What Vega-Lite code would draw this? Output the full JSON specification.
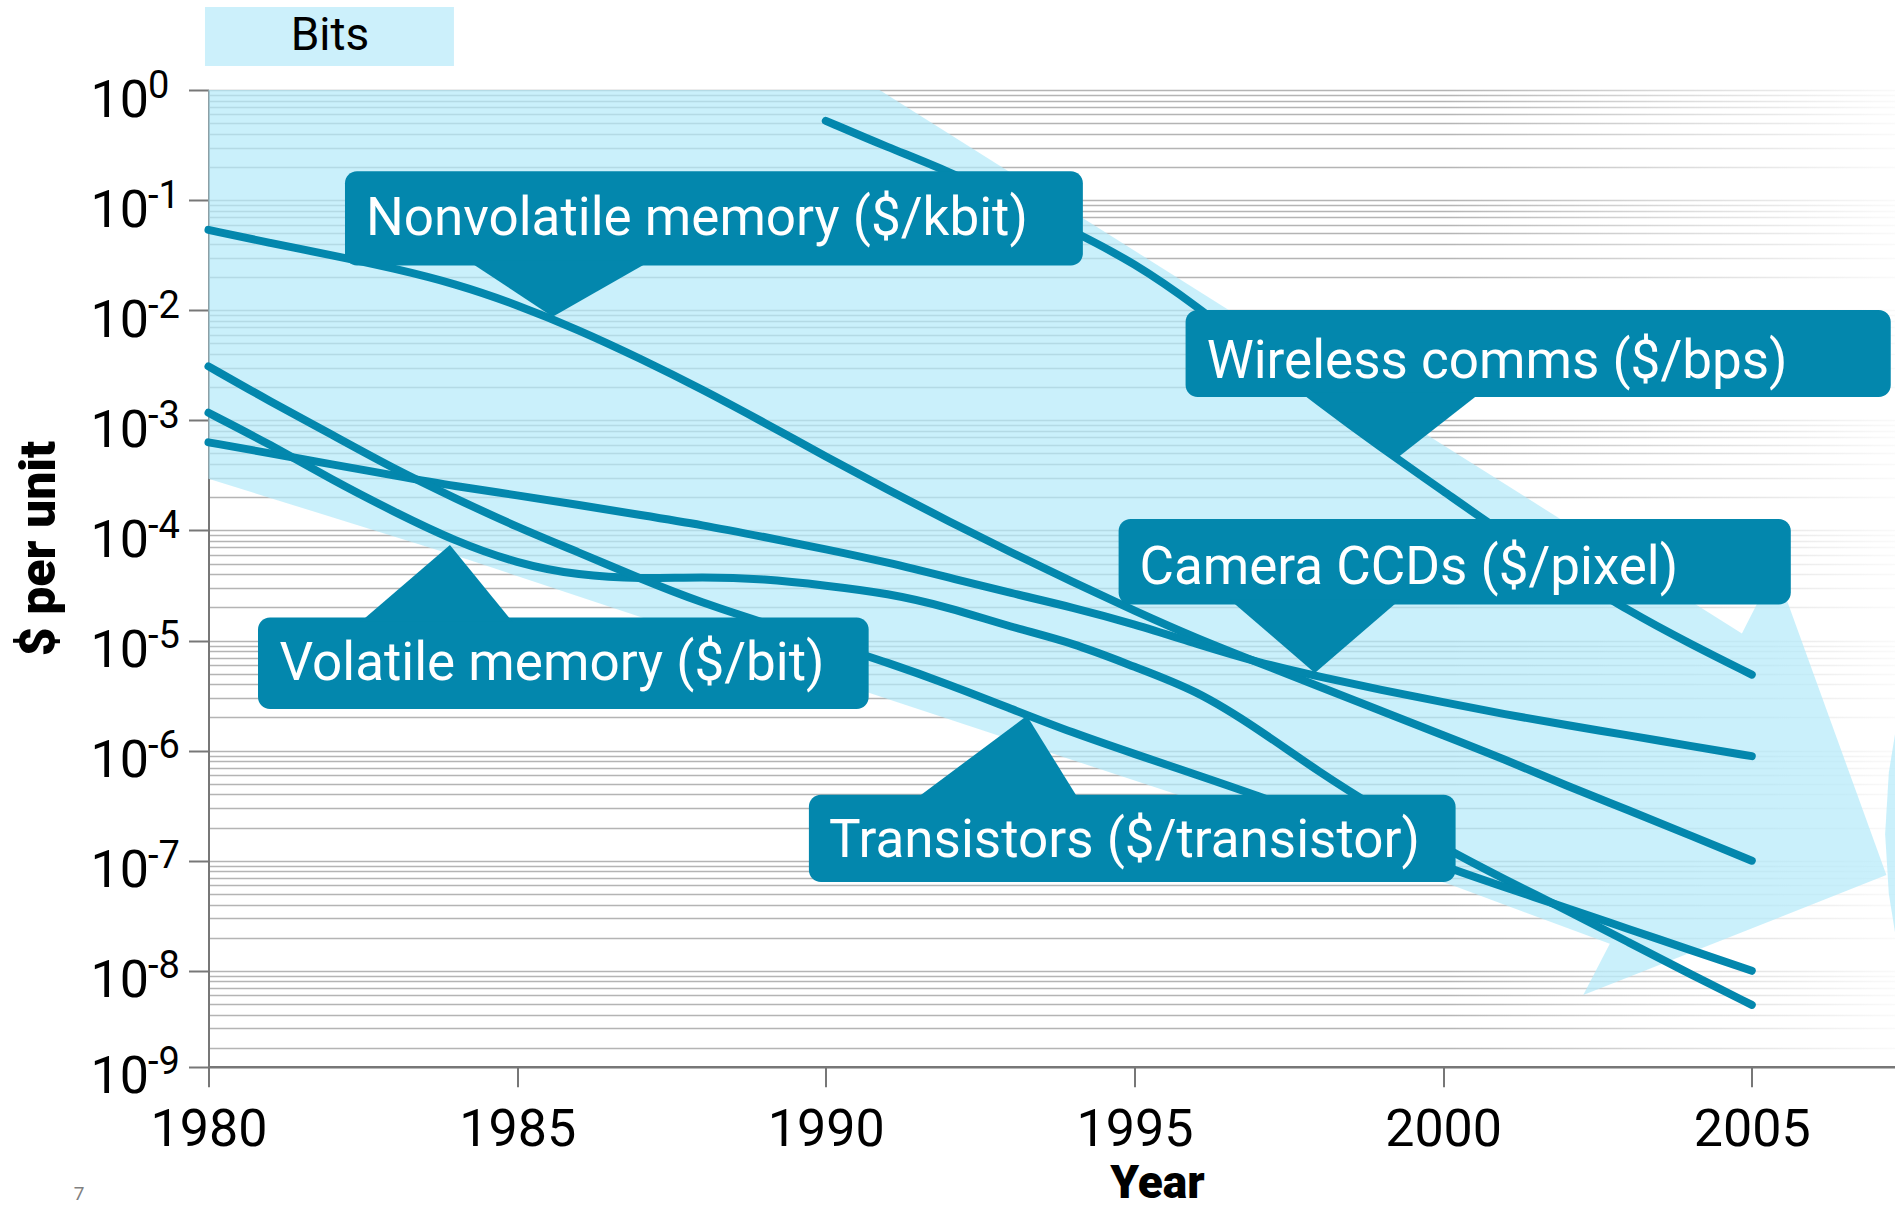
{
  "$schema": "https://vega.github.io/schema/vega-lite/v6.json",
  "width": 1686.5,
  "height": 976.7,
  "autosize": "none",
  "padding": {"left": 208.5, "top": 90, "right": 0, "bottom": 142.3},
  "background": "white",
  "config": {"view": {"stroke": null}, "font": "Roboto", "axis": {"labelFont": "Roboto", "titleFont": "Roboto"}},
  "datasets": {
    "lines": [
      {"series": "Nonvolatile memory", "year": 1980, "value": 0.0537},
      {"series": "Nonvolatile memory", "year": 1981, "value": 0.0407},
      {"series": "Nonvolatile memory", "year": 1982, "value": 0.0316},
      {"series": "Nonvolatile memory", "year": 1983, "value": 0.024},
      {"series": "Nonvolatile memory", "year": 1984, "value": 0.0174},
      {"series": "Nonvolatile memory", "year": 1985, "value": 0.0112},
      {"series": "Nonvolatile memory", "year": 1986, "value": 0.00661},
      {"series": "Nonvolatile memory", "year": 1987, "value": 0.00363},
      {"series": "Nonvolatile memory", "year": 1988, "value": 0.00191},
      {"series": "Nonvolatile memory", "year": 1989, "value": 0.000955},
      {"series": "Nonvolatile memory", "year": 1990, "value": 0.000468},
      {"series": "Nonvolatile memory", "year": 1991, "value": 0.000234},
      {"series": "Nonvolatile memory", "year": 1992, "value": 0.00012},
      {"series": "Nonvolatile memory", "year": 1993, "value": 6.31e-5},
      {"series": "Nonvolatile memory", "year": 1994, "value": 3.39e-5},
      {"series": "Nonvolatile memory", "year": 1995, "value": 1.86e-5},
      {"series": "Nonvolatile memory", "year": 1996, "value": 1.05e-5},
      {"series": "Nonvolatile memory", "year": 1997, "value": 6.31e-6},
      {"series": "Nonvolatile memory", "year": 1998, "value": 3.8e-6},
      {"series": "Nonvolatile memory", "year": 1999, "value": 2.29e-6},
      {"series": "Nonvolatile memory", "year": 2000, "value": 1.38e-6},
      {"series": "Nonvolatile memory", "year": 2001, "value": 8.32e-7},
      {"series": "Nonvolatile memory", "year": 2002, "value": 4.79e-7},
      {"series": "Nonvolatile memory", "year": 2003, "value": 2.88e-7},
      {"series": "Nonvolatile memory", "year": 2004, "value": 1.7e-7},
      {"series": "Nonvolatile memory", "year": 2005, "value": 1e-7},
      {"series": "Camera CCDs", "year": 1980, "value": 6.31e-4},
      {"series": "Camera CCDs", "year": 1981, "value": 5.01e-4},
      {"series": "Camera CCDs", "year": 1982, "value": 3.98e-4},
      {"series": "Camera CCDs", "year": 1983, "value": 3.16e-4},
      {"series": "Camera CCDs", "year": 1984, "value": 2.51e-4},
      {"series": "Camera CCDs", "year": 1985, "value": 2.09e-4},
      {"series": "Camera CCDs", "year": 1986, "value": 1.7e-4},
      {"series": "Camera CCDs", "year": 1987, "value": 1.38e-4},
      {"series": "Camera CCDs", "year": 1988, "value": 1.12e-4},
      {"series": "Camera CCDs", "year": 1989, "value": 8.71e-5},
      {"series": "Camera CCDs", "year": 1990, "value": 6.76e-5},
      {"series": "Camera CCDs", "year": 1991, "value": 5.13e-5},
      {"series": "Camera CCDs", "year": 1992, "value": 3.72e-5},
      {"series": "Camera CCDs", "year": 1993, "value": 2.69e-5},
      {"series": "Camera CCDs", "year": 1994, "value": 2.0e-5},
      {"series": "Camera CCDs", "year": 1995, "value": 1.41e-5},
      {"series": "Camera CCDs", "year": 1996, "value": 9.33e-6},
      {"series": "Camera CCDs", "year": 1997, "value": 6.31e-6},
      {"series": "Camera CCDs", "year": 1998, "value": 4.68e-6},
      {"series": "Camera CCDs", "year": 1999, "value": 3.55e-6},
      {"series": "Camera CCDs", "year": 2000, "value": 2.75e-6},
      {"series": "Camera CCDs", "year": 2001, "value": 2.14e-6},
      {"series": "Camera CCDs", "year": 2002, "value": 1.7e-6},
      {"series": "Camera CCDs", "year": 2003, "value": 1.38e-6},
      {"series": "Camera CCDs", "year": 2004, "value": 1.1e-6},
      {"series": "Camera CCDs", "year": 2005, "value": 8.91e-7},
      {"series": "Volatile memory", "year": 1980, "value": 1.17e-3},
      {"series": "Volatile memory", "year": 1981, "value": 6.03e-4},
      {"series": "Volatile memory", "year": 1982, "value": 2.88e-4},
      {"series": "Volatile memory", "year": 1983, "value": 1.48e-4},
      {"series": "Volatile memory", "year": 1984, "value": 7.94e-5},
      {"series": "Volatile memory", "year": 1985, "value": 5.01e-5},
      {"series": "Volatile memory", "year": 1986, "value": 3.89e-5},
      {"series": "Volatile memory", "year": 1987, "value": 3.63e-5},
      {"series": "Volatile memory", "year": 1988, "value": 3.8e-5},
      {"series": "Volatile memory", "year": 1989, "value": 3.63e-5},
      {"series": "Volatile memory", "year": 1990, "value": 3.16e-5},
      {"series": "Volatile memory", "year": 1991, "value": 2.69e-5},
      {"series": "Volatile memory", "year": 1992, "value": 2.0e-5},
      {"series": "Volatile memory", "year": 1993, "value": 1.32e-5},
      {"series": "Volatile memory", "year": 1994, "value": 9.55e-6},
      {"series": "Volatile memory", "year": 1995, "value": 5.75e-6},
      {"series": "Volatile memory", "year": 1996, "value": 3.55e-6},
      {"series": "Volatile memory", "year": 1997, "value": 1.58e-6},
      {"series": "Volatile memory", "year": 1998, "value": 6.31e-7},
      {"series": "Volatile memory", "year": 1999, "value": 2.82e-7},
      {"series": "Volatile memory", "year": 2000, "value": 1.32e-7},
      {"series": "Volatile memory", "year": 2001, "value": 6.76e-8},
      {"series": "Volatile memory", "year": 2002, "value": 3.55e-8},
      {"series": "Volatile memory", "year": 2003, "value": 1.82e-8},
      {"series": "Volatile memory", "year": 2004, "value": 9.33e-9},
      {"series": "Volatile memory", "year": 2005, "value": 4.9e-9},
      {"series": "Transistors", "year": 1980, "value": 3.09e-3},
      {"series": "Transistors", "year": 1981, "value": 1.48e-3},
      {"series": "Transistors", "year": 1982, "value": 7.41e-4},
      {"series": "Transistors", "year": 1983, "value": 3.63e-4},
      {"series": "Transistors", "year": 1984, "value": 1.95e-4},
      {"series": "Transistors", "year": 1985, "value": 1.07e-4},
      {"series": "Transistors", "year": 1986, "value": 6.31e-5},
      {"series": "Transistors", "year": 1987, "value": 3.63e-5},
      {"series": "Transistors", "year": 1988, "value": 2.19e-5},
      {"series": "Transistors", "year": 1989, "value": 1.45e-5},
      {"series": "Transistors", "year": 1990, "value": 9.55e-6},
      {"series": "Transistors", "year": 1991, "value": 6.31e-6},
      {"series": "Transistors", "year": 1992, "value": 3.98e-6},
      {"series": "Transistors", "year": 1993, "value": 2.4e-6},
      {"series": "Transistors", "year": 1994, "value": 1.45e-6},
      {"series": "Transistors", "year": 1995, "value": 9.33e-7},
      {"series": "Transistors", "year": 1996, "value": 6.03e-7},
      {"series": "Transistors", "year": 1997, "value": 3.89e-7},
      {"series": "Transistors", "year": 1998, "value": 2.4e-7},
      {"series": "Transistors", "year": 1999, "value": 1.48e-7},
      {"series": "Transistors", "year": 2000, "value": 8.91e-8},
      {"series": "Transistors", "year": 2001, "value": 5.75e-8},
      {"series": "Transistors", "year": 2002, "value": 3.72e-8},
      {"series": "Transistors", "year": 2003, "value": 2.4e-8},
      {"series": "Transistors", "year": 2004, "value": 1.55e-8},
      {"series": "Transistors", "year": 2005, "value": 1e-8},
      {"series": "Wireless comms", "year": 1990, "value": 0.525},
      {"series": "Wireless comms", "year": 1991, "value": 0.302},
      {"series": "Wireless comms", "year": 1992, "value": 0.182},
      {"series": "Wireless comms", "year": 1993, "value": 0.0977},
      {"series": "Wireless comms", "year": 1994, "value": 0.0525},
      {"series": "Wireless comms", "year": 1995, "value": 0.0269},
      {"series": "Wireless comms", "year": 1996, "value": 0.011},
      {"series": "Wireless comms", "year": 1997, "value": 0.00398},
      {"series": "Wireless comms", "year": 1998, "value": 0.00145},
      {"series": "Wireless comms", "year": 1999, "value": 5.62e-4},
      {"series": "Wireless comms", "year": 2000, "value": 2.29e-4},
      {"series": "Wireless comms", "year": 2001, "value": 9.12e-5},
      {"series": "Wireless comms", "year": 2002, "value": 4.17e-5},
      {"series": "Wireless comms", "year": 2003, "value": 1.86e-5},
      {"series": "Wireless comms", "year": 2004, "value": 9.33e-6},
      {"series": "Wireless comms", "year": 2005, "value": 4.9e-6}
    ],
    "arrow": [
      {"shape": "arrow", "i": 0, "year": 1980, "value": 1},
      {"shape": "arrow", "i": 1, "year": 1990.87, "value": 1},
      {"shape": "arrow", "i": 2, "year": 2004.84, "value": 1.16e-5},
      {"shape": "arrow", "i": 3, "year": 2005.38, "value": 4.55e-5},
      {"shape": "arrow", "i": 4, "year": 2007.18, "value": 7.41e-8},
      {"shape": "arrow", "i": 5, "year": 2002.27, "value": 6.03e-9},
      {"shape": "arrow", "i": 6, "year": 2002.7, "value": 1.76e-8},
      {"shape": "arrow", "i": 7, "year": 2000.17, "value": 5.92e-8},
      {"shape": "arrow", "i": 8, "year": 1991.21, "value": 2.69e-6},
      {"shape": "arrow", "i": 9, "year": 1984.2, "value": 5.43e-5},
      {"shape": "arrow", "i": 10, "year": 1980, "value": 2.95e-4},
      {"shape": "edge", "i": 0, "year": 2007.32, "value": 1.41e-6},
      {"shape": "edge", "i": 1, "year": 2007.22, "value": 6.31e-7},
      {"shape": "edge", "i": 2, "year": 2007.16, "value": 1.74e-7},
      {"shape": "edge", "i": 3, "year": 2007.22, "value": 5.01e-8},
      {"shape": "edge", "i": 4, "year": 2007.32, "value": 2.24e-8}
    ],
    "callouts": [
      {"label": "Nonvolatile memory ($/kbit)", "x0": 1982.211, "x1": 1994.164, "y0": 0.1828, "y1": 0.02547, "tx": 1982.55, "ty": 0.04853},
      {"label": "Wireless comms ($/bps)", "x0": 1995.828, "x1": 2007.251, "y0": 0.01005, "y1": 0.001629, "tx": 1996.17, "ty": 0.002399},
      {"label": "Camera CCDs ($/pixel)", "x0": 1994.743, "x1": 2005.632, "y0": 1.271e-4, "y1": 2.123e-5, "tx": 1995.08, "ty": 3.258e-5},
      {"label": "Volatile memory ($/bit)", "x0": 1980.802, "x1": 1990.694, "y0": 1.618e-5, "y1": 2.388e-6, "tx": 1981.15, "ty": 4.335e-6},
      {"label": "Transistors ($/transistor)", "x0": 1989.726, "x1": 2000.202, "y0": 3.981e-7, "y1": 6.412e-8, "tx": 1990.05, "ty": 1.081e-7}
    ],
    "pointers": [
      {"shape": "p1", "i": 0, "year": 1984.201, "value": 0.02818},
      {"shape": "p1", "i": 1, "year": 1987.165, "value": 0.02818},
      {"shape": "p1", "i": 2, "year": 1985.575, "value": 0.00871},
      {"shape": "p2", "i": 0, "year": 1997.75, "value": 0.001778},
      {"shape": "p2", "i": 1, "year": 2000.606, "value": 0.001778},
      {"shape": "p2", "i": 2, "year": 1999.234, "value": 4.446e-4},
      {"shape": "p3", "i": 0, "year": 1996.545, "value": 2.344e-5},
      {"shape": "p3", "i": 1, "year": 1999.299, "value": 2.344e-5},
      {"shape": "p3", "i": 2, "year": 1997.922, "value": 5.07e-6},
      {"shape": "p4", "i": 0, "year": 1982.465, "value": 1.479e-5},
      {"shape": "p4", "i": 1, "year": 1984.924, "value": 1.479e-5},
      {"shape": "p4", "i": 2, "year": 1983.911, "value": 7.362e-5},
      {"shape": "p5", "i": 0, "year": 1991.453, "value": 3.631e-7},
      {"shape": "p5", "i": 1, "year": 1994.093, "value": 3.631e-7},
      {"shape": "p5", "i": 2, "year": 1993.257, "value": 2.07e-6}
    ]
  },
  "resolve": {"axis": {"y": "independent", "x": "independent"}},
  "layer": [
    {
      "data": {"values": [{"k": 0}]},
      "mark": {"type": "rect", "fill": {"gradient": "linear", "x1": 0, "y1": 0, "x2": 1, "y2": 0, "stops": [{"offset": 0, "color": "rgba(255,255,255,0)"}, {"offset": 0.55, "color": "rgba(255,255,255,0.55)"}, {"offset": 1, "color": "rgba(255,255,255,0.93)"}]}},
      "encoding": {
        "x": {"datum": 2000, "type": "quantitative", "scale": {"type": "linear", "domain": [1980, 2007.32], "nice": false, "zero": false}, "axis": null},
        "x2": {"datum": 2007.32},
        "y": {"datum": 1.05, "type": "quantitative", "scale": {"type": "log", "domain": [1.346e-9, 1], "nice": false},
          "axis": {"orient": "left", "title": null, "labels": false, "ticks": false, "domain": false, "grid": true, "gridColor": "#b4b4b4", "gridWidth": 1.6,
            "values": [1, 0.9, 0.8, 0.7, 0.6, 0.5, 0.4, 0.3, 0.2,
              0.1, 0.09, 0.08, 0.07, 0.06, 0.05, 0.04, 0.03, 0.02,
              0.01, 0.009, 0.008, 0.007, 0.006, 0.005, 0.004, 0.003, 0.002,
              0.001, 0.0009, 0.0008, 0.0007, 0.0006, 0.0005, 0.0004, 0.0003, 0.0002,
              1e-4, 9e-5, 8e-5, 7e-5, 6e-5, 5e-5, 4e-5, 3e-5, 2e-5,
              1e-5, 9e-6, 8e-6, 7e-6, 6e-6, 5e-6, 4e-6, 3e-6, 2e-6,
              1e-6, 9e-7, 8e-7, 7e-7, 6e-7, 5e-7, 4e-7, 3e-7, 2e-7,
              1e-7, 9e-8, 8e-8, 7e-8, 6e-8, 5e-8, 4e-8, 3e-8, 2e-8,
              1e-8, 9e-9, 8e-9, 7e-9, 6e-9, 5e-9, 4e-9, 3e-9, 2e-9]}},
        "y2": {"datum": 1.7e-9}
      }
    },
    {
      "data": {"name": "arrow"},
      "mark": {"type": "line", "fill": "#b3eafa", "fillOpacity": 0.7, "strokeWidth": 0, "strokeOpacity": 0},
      "encoding": {
        "x": {"field": "year", "type": "quantitative", "scale": {"type": "linear", "domain": [1980, 2007.32], "nice": false, "zero": false}, "axis": null},
        "y": {"field": "value", "type": "quantitative", "scale": {"type": "log", "domain": [1.346e-9, 1], "nice": false},
          "axis": {"orient": "left", "values": [1, 0.1, 0.01, 0.001, 0.0001, 0.00001, 0.000001, 1e-7, 1e-8, 1.346e-9],
            "labelExpr": "'10'", "labelFontSize": 52, "labelColor": "#000000", "labelAlign": "right", "labelBaseline": "middle",
            "labelPadding": 40, "labelOffset": 10, "labelOverlap": false, "labelBound": false,
            "tickSize": 20, "tickWidth": 2, "tickColor": "#777777", "domainColor": "#777777", "domainWidth": 2, "grid": false,
            "title": "$ per unit", "titleFontSize": 50, "titleFontWeight": 900, "titleColor": "#000000",
            "titleX": -169.5, "titleY": 458, "titleAngle": -90, "titleAlign": "center", "titleBaseline": "middle"}},
        "order": {"field": "i"},
        "detail": {"field": "shape"}
      }
    },
    {
      "data": {"values": [{"k": 0}]},
      "mark": {"type": "rect", "fill": "#ccf0fb"},
      "encoding": {
        "x": {"datum": 1979.943, "type": "quantitative", "scale": {"type": "linear", "domain": [1980, 2007.32], "nice": false, "zero": false}, "axis": null},
        "x2": {"datum": 1983.976},
        "y": {"datum": 5.675, "type": "quantitative", "scale": {"type": "log", "domain": [1.346e-9, 1], "nice": false},
          "axis": {"orient": "left", "values": [1, 0.1, 0.01, 0.001, 0.0001, 0.00001, 0.000001, 1e-7, 1e-8, 1.346e-9],
            "labelExpr": "'' + round(log(datum.value) / LN10)", "labelFontSize": 38, "labelColor": "#000000", "labelAlign": "left", "labelBaseline": "middle",
            "labelPadding": 41, "labelOffset": -4, "labelOverlap": false, "labelBound": false,
            "ticks": true, "tickSize": 20, "tickOpacity": 0, "domain": false, "grid": false, "title": null}},
        "y2": {"datum": 1.652}
      }
    },
    {
      "data": {"values": [{"label": "Bits"}]},
      "mark": {"type": "text", "font": "Roboto", "fontSize": 46, "color": "#000000", "align": "center", "baseline": "alphabetic"},
      "encoding": {
        "x": {"datum": 1981.968, "type": "quantitative", "scale": {"type": "linear", "domain": [1980, 2007.32], "nice": false, "zero": false}, "axis": null},
        "y": {"datum": 2.307, "type": "quantitative", "scale": {"type": "log", "domain": [1.346e-9, 1], "nice": false}, "axis": null},
        "text": {"field": "label"}
      }
    },
    {
      "data": {"name": "lines"},
      "mark": {"type": "line", "color": "#0387ad", "strokeWidth": 8, "strokeCap": "round", "strokeJoin": "round", "interpolate": "basis"},
      "encoding": {
        "x": {"field": "year", "type": "quantitative", "scale": {"type": "linear", "domain": [1980, 2007.32], "nice": false, "zero": false},
          "axis": {"orient": "bottom", "values": [1980, 1985, 1990, 1995, 2000, 2005], "format": "d", "labelFontSize": 52, "labelColor": "#000000",
            "labelPadding": 18, "labelFlush": false, "labelOverlap": false, "tickSize": 20, "tickWidth": 2, "tickColor": "#777777",
            "domain": true, "domainColor": "#777777", "domainWidth": 2.5, "grid": false, "ticks": true, "labels": true,
            "title": "Year", "titleFontSize": 46, "titleFontWeight": 900, "titleColor": "#000000",
            "titleX": 948.5, "titleY": 95, "titleBaseline": "top", "titleAlign": "center"}},
        "y": {"field": "value", "type": "quantitative", "scale": {"type": "log", "domain": [1.346e-9, 1], "nice": false}, "axis": null},
        "detail": {"field": "series"}
      }
    },
    {
      "data": {"name": "callouts"},
      "mark": {"type": "rect", "fill": "#0387ad", "cornerRadius": 12},
      "encoding": {
        "x": {"field": "x0", "type": "quantitative", "scale": {"type": "linear", "domain": [1980, 2007.32], "nice": false, "zero": false}, "axis": null},
        "x2": {"field": "x1"},
        "y": {"field": "y0", "type": "quantitative", "scale": {"type": "log", "domain": [1.346e-9, 1], "nice": false}, "axis": null},
        "y2": {"field": "y1"}
      }
    },
    {
      "data": {"name": "pointers"},
      "mark": {"type": "line", "fill": "#0387ad", "strokeWidth": 0, "strokeOpacity": 0},
      "encoding": {
        "x": {"field": "year", "type": "quantitative", "scale": {"type": "linear", "domain": [1980, 2007.32], "nice": false, "zero": false}, "axis": null},
        "y": {"field": "value", "type": "quantitative", "scale": {"type": "log", "domain": [1.346e-9, 1], "nice": false}, "axis": null},
        "order": {"field": "i"},
        "detail": {"field": "shape"}
      }
    },
    {
      "data": {"name": "callouts"},
      "mark": {"type": "text", "font": "Roboto", "fontSize": 53, "color": "#ffffff", "align": "left", "baseline": "alphabetic"},
      "encoding": {
        "x": {"field": "tx", "type": "quantitative", "scale": {"type": "linear", "domain": [1980, 2007.32], "nice": false, "zero": false}, "axis": null},
        "y": {"field": "ty", "type": "quantitative", "scale": {"type": "log", "domain": [1.346e-9, 1], "nice": false}, "axis": null},
        "text": {"field": "label"}
      }
    },
    {
      "data": {"values": [{"label": "7"}]},
      "mark": {"type": "text", "font": "Roboto", "fontSize": 19, "color": "#808080", "align": "center", "baseline": "alphabetic"},
      "encoding": {
        "x": {"datum": 1977.903, "type": "quantitative", "scale": {"type": "linear", "domain": [1980, 2007.32], "nice": false, "zero": false}, "axis": null},
        "y": {"datum": 8.32e-11, "type": "quantitative", "scale": {"type": "log", "domain": [1.346e-9, 1], "nice": false}, "axis": null},
        "text": {"field": "label"}
      }
    }
  ]
}
